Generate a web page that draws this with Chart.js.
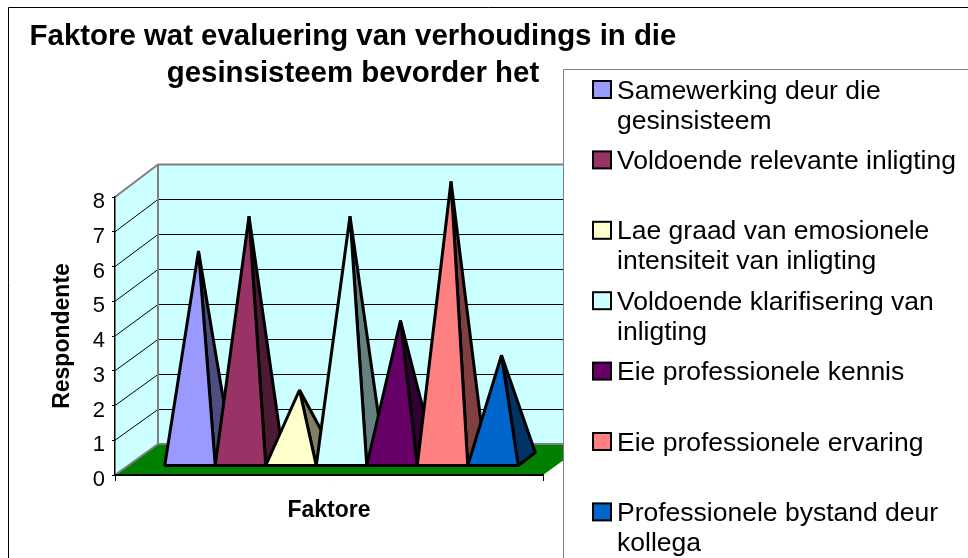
<!DOCTYPE html>
<html><head><meta charset="utf-8">
<style>html,body{margin:0;padding:0;background:#fff}canvas{display:block}</style>
<script src="https://cdn.jsdelivr.net/npm/chart.js@4"></script>
</head><body><canvas id="c" width="968" height="558"></canvas>
<script>
const categories = ['.'];
const seriesNames = ['Samewerking deur die gesinsisteem','Voldoende relevante inligting','Lae graad van emosionele intensiteit van inligting','Voldoende klarifisering van inligting','Eie professionele kennis','Eie professionele ervaring','Professionele bystand deur kollega'];
const legendLines = [['Samewerking deur die','gesinsisteem'],['Voldoende relevante inligting'],['Lae graad van emosionele','intensiteit van inligting'],['Voldoende klarifisering van','inligting'],['Eie professionele kennis'],['Eie professionele ervaring'],['Professionele bystand deur','kollega']];
const values = [6,7,2,7,4,8,3];
const frontColors = ['#9999FF','#993366','#FFFFCC','#CCFFFF','#660066','#FF8080','#0066CC'];
const sideColors = ['#4D4D80','#4D1A33','#808066','#668080','#330033','#804040','#003366'];
const yTicks = [0,1,2,3,4,5,6,7,8];
const titleLines = ['Faktore wat evaluering van verhoudings in die','gesinsisteem bevorder het'];

const WALL = {dx:43, dy:-31, stretch:1.0055};
const FRONT = {dx:12.5, dy:-9};
const BACK = {dx:29.5, dy:-22};
const FONT = '"Liberation Sans", Arial, sans-serif';

class PyramidElement extends Chart.BarElement {
  static id = 'pyramid';
  static defaults = {...Chart.BarElement.defaults, sideColor:'#000'};
  draw(ctx){
    const {x,y,base,width} = this.getProps(['x','y','base','width']);
    const o = this.options;
    const l = x - width/2 + FRONT.dx, r = x + width/2 + FRONT.dx, fy = base + FRONT.dy;
    const br = x + width/2 + BACK.dx, by = base + BACK.dy;
    const ax = x + (FRONT.dx + BACK.dx)/2, ay = y + (FRONT.dy + BACK.dy)/2;
    ctx.save();
    ctx.lineWidth = 3; ctx.strokeStyle = '#000'; ctx.lineJoin = 'bevel';
    ctx.beginPath(); ctx.moveTo(r,fy); ctx.lineTo(br,by); ctx.lineTo(ax,ay); ctx.closePath();
    ctx.fillStyle = o.sideColor; ctx.fill(); ctx.stroke();
    ctx.beginPath(); ctx.moveTo(l,fy); ctx.lineTo(r,fy); ctx.lineTo(ax,ay); ctx.closePath();
    ctx.fillStyle = o.backgroundColor; ctx.fill(); ctx.stroke();
    ctx.restore();
  }
}
class PyramidController extends Chart.BarController {
  static id = 'pyramid';
  static defaults = {...Chart.BarController.defaults, dataElementType:'pyramid'};
  static overrides = Chart.BarController.overrides;
  draw(){}
}
Chart.register(PyramidElement, PyramidController);

const wallsPlugin = {
  id:'walls',
  beforeDraw(chart){
    const ctx = chart.ctx, xs = chart.scales.x, ys = chart.scales.y;
    const l = xs.left, r = xs.right, b = ys.getPixelForValue(0), t = ys.getPixelForValue(yTicks[yTicks.length-1]);
    const {dx,dy,stretch} = WALL;
    const backY = v => b + dy - (b - ys.getPixelForValue(v)) * stretch;
    const bt = backY(yTicks[yTicks.length-1]), bb = backY(0);
    ctx.save();
    ctx.fillStyle = '#fff'; ctx.fillRect(0,0,chart.width,chart.height);
    ctx.fillStyle = '#CCFFFF';
    ctx.fillRect(l+dx,bt,r-l,bb-bt);
    ctx.beginPath(); ctx.moveTo(l,b); ctx.lineTo(l+dx,bb); ctx.lineTo(l+dx,bt); ctx.lineTo(l,t); ctx.closePath(); ctx.fill();
    ctx.fillStyle = '#008000';
    ctx.beginPath(); ctx.moveTo(l,b); ctx.lineTo(r,b); ctx.lineTo(r+dx,bb); ctx.lineTo(l+dx,bb); ctx.closePath(); ctx.fill();
    ctx.strokeStyle = '#000'; ctx.lineWidth = 1;
    yTicks.slice(1,-1).forEach(v=>{
      const y = ys.getPixelForValue(v), by = Math.round(backY(v))+.5;
      ctx.beginPath(); ctx.moveTo(l,y); ctx.lineTo(l+dx,by); ctx.lineTo(r+dx,by); ctx.stroke();
    });
    ctx.strokeStyle = '#808080'; ctx.lineWidth = 2;
    ctx.beginPath(); ctx.moveTo(l,t); ctx.lineTo(l+dx,bt); ctx.lineTo(r+dx,bt); ctx.stroke();
    ctx.beginPath(); ctx.moveTo(l+dx,bt); ctx.lineTo(l+dx,bb); ctx.lineTo(r+dx,bb); ctx.stroke();
    ctx.beginPath(); ctx.moveTo(l+dx,bb); ctx.lineTo(l,b); ctx.stroke();
    ctx.restore();
  },
  afterLayout(chart){
    chart.titleBlock.left = 0; chart.titleBlock.right = 706;
  },
  afterDatasetsDraw(chart){
    chart.getSortedVisibleDatasetMetas().forEach(m=>m.data.forEach(el=>el.draw(chart.ctx)));
  }
};

const legendPlugin = {
  id:'boxLegend',
  afterDraw(chart){
    const ctx = chart.ctx;
    ctx.save();
    ctx.fillStyle = '#fff'; ctx.fillRect(563,69,405,489);
    ctx.strokeStyle = '#808080'; ctx.lineWidth = 1;
    ctx.beginPath(); ctx.moveTo(563.5,558); ctx.lineTo(563.5,69.5); ctx.lineTo(968,69.5); ctx.stroke();
    ctx.font = '26.5px ' + FONT;
    ctx.textBaseline = 'alphabetic'; ctx.textAlign = 'left';
    legendLines.forEach((lines,i)=>{
      const top = 81 + i*70.4;
      ctx.fillStyle = frontColors[i]; ctx.strokeStyle = '#000'; ctx.lineWidth = 2;
      ctx.fillRect(593,top,18,17); ctx.strokeRect(593,top,18,17);
      ctx.fillStyle = '#000';
      lines.forEach((s,j)=>ctx.fillText(s,617,top+17.5+j*30));
    });
    ctx.strokeStyle = '#000'; ctx.lineWidth = 1;
    ctx.beginPath(); ctx.moveTo(8.5,558); ctx.lineTo(8.5,7.5); ctx.lineTo(968,7.5); ctx.stroke();
    ctx.restore();
  }
};

new Chart(document.getElementById('c'),{
  type:'pyramid',
  data:{
    labels:categories,
    datasets:values.map((v,i)=>({
      label:seriesNames[i], data:[v], backgroundColor:frontColors[i], sideColor:sideColors[i],
      clip:false, barPercentage:1, categoryPercentage:0.826
    }))
  },
  plugins:[wallsPlugin,legendPlugin],
  options:{
    responsive:false, animation:false, devicePixelRatio:1,
    layout:{padding:{left:0,right:425,top:0,bottom:0},autoPadding:false},
    plugins:{
      legend:{display:false}, tooltip:{enabled:false},
      title:{display:true,text:titleLines,color:'#000',align:'center',
        font:{family:FONT,size:29.4,weight:'bold',lineHeight:37/29.4},
        padding:{top:18.5,bottom:104.5}}
    },
    scales:{
      x:{type:'category',offset:true,
        afterFit(s){s.height=83;},
        border:{color:'#000',width:2},
        grid:{offset:true,drawOnChartArea:false,tickLength:6,tickColor:'#000',lineWidth:1},
        ticks:{color:'#bbb',font:{size:5},padding:-3,maxRotation:0},
        title:{display:true,text:'Faktore',color:'#000',font:{family:FONT,size:23,weight:'bold'},padding:{top:0,bottom:34}}
      },
      y:{type:'linear',min:0,max:8,
        afterFit(s){s.width=115;},
        afterBuildTicks(s){s.ticks=yTicks.map(v=>({value:v}));},
        afterUpdate(s){
          const compute = s._computeLabelItems;
          s._computeLabelItems = ca => compute.call(s,ca).map(it=>{it.textOffset += 2.5; return it;});
        },
        border:{color:'#000',width:1.5},
        grid:{drawOnChartArea:false,tickLength:3,tickColor:'#000'},
        ticks:{color:'#000',font:{family:FONT,size:22},padding:7},
        title:{display:true,text:'Respondente',color:'#000',font:{family:FONT,size:23,weight:'bold'},padding:{top:49,bottom:0}}
      }
    }
  }
});
</script></body></html>
